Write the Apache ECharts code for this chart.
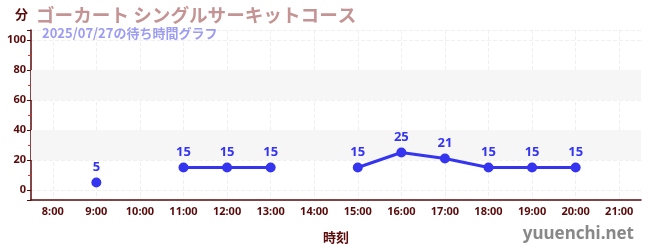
<!DOCTYPE html>
<html><head><meta charset="utf-8">
<script src="https://cdn.jsdelivr.net/npm/echarts@6/dist/echarts.min.js"></script>
<style>html,body{margin:0;padding:0;background:#fff}#c{width:650px;height:250px}</style>
</head><body><div id="c"></div>
<script>
const titleText = 'ゴーカート シングルサーキットコース';
const subTitleText = '2025/07/27の待ち時間グラフ';
const categories = ['8:00','9:00','10:00','11:00','12:00','13:00','14:00','15:00','16:00','17:00','18:00','19:00','20:00','21:00'];
const waitMinutes = [null,5,null,15,15,15,null,15,25,21,15,15,15,null];
const bands = [[20,40],[60,80]];
const yMin = -6.67, yMax = 106.67;

const axisColor = '#5a0a0a';
const lineColor = '#3535f0';
const chart = echarts.init(document.getElementById('c'));
chart.setOption({
  animation:false,
  backgroundColor:'#fff',
  title:[
    {text:titleText,left:31,top:1,textStyle:{fontFamily:'Noto Sans CJK JP',fontSize:18.6,fontWeight:'bold',color:'#c49494'}},
    {text:subTitleText,left:37,top:22,textStyle:{fontFamily:'Noto Sans CJK JP',fontSize:13,fontWeight:'bold',color:'#9c9cf2'}}
  ],
  graphic:[{type:'text',right:16,bottom:7,style:{text:'yuuenchi.net',font:'bold 17px "Noto Sans"',fill:'#888'}}],
  grid:{left:31,right:9,top:30,bottom:50},
  xAxis:{
    type:'category',data:categories,boundaryGap:true,
    name:'時刻',nameLocation:'middle',nameGap:31,
    nameTextStyle:{fontFamily:'Noto Sans CJK JP',fontSize:13,fontWeight:'bold',color:axisColor},
    axisLine:{onZero:false,lineStyle:{color:axisColor,width:1.5}},
    axisTick:{alignWithLabel:true,length:4,lineStyle:{color:axisColor}},
    axisLabel:{fontFamily:'Noto Sans',fontSize:11,fontWeight:'bold',color:axisColor,margin:6,interval:0},
    splitLine:{show:true,alignWithLabel:true,lineStyle:{type:'dashed',color:'#f0f0f0'}}
  },
  yAxis:{
    type:'value',min:yMin,max:yMax,splitNumber:6,
    name:'分',nameLocation:'end',nameGap:9,
    nameTextStyle:{fontFamily:'Noto Sans CJK JP',fontSize:13,fontWeight:'bold',color:axisColor,align:'right',padding:[0,3,0,0]},
    axisLine:{show:true,lineStyle:{color:axisColor,width:1.5}},
    axisTick:{show:true,length:4,lineStyle:{color:axisColor}},
    minorTick:{show:true,splitNumber:2,length:3,lineStyle:{color:'#e03030'}},
    axisLabel:{fontFamily:'Noto Sans',fontSize:11,fontWeight:'bold',color:axisColor,margin:5,showMinLabel:false,showMaxLabel:false},
    splitLine:{show:true,lineStyle:{type:'dashed',color:'#f0f0f0'}}
  },
  series:[{
    type:'line',data:waitMinutes,connectNulls:false,
    symbol:'circle',symbolSize:10,
    lineStyle:{color:lineColor,width:3},
    itemStyle:{color:lineColor},
    label:{show:true,position:'top',distance:4,fontFamily:'Noto Sans',fontSize:13,fontWeight:'bold',color:lineColor},
    markArea:{silent:true,itemStyle:{color:'#f6f6f6'},data:bands.map(b=>[{yAxis:b[0]},{yAxis:b[1]}])},
    z:3
  }]
});
</script></body></html>
